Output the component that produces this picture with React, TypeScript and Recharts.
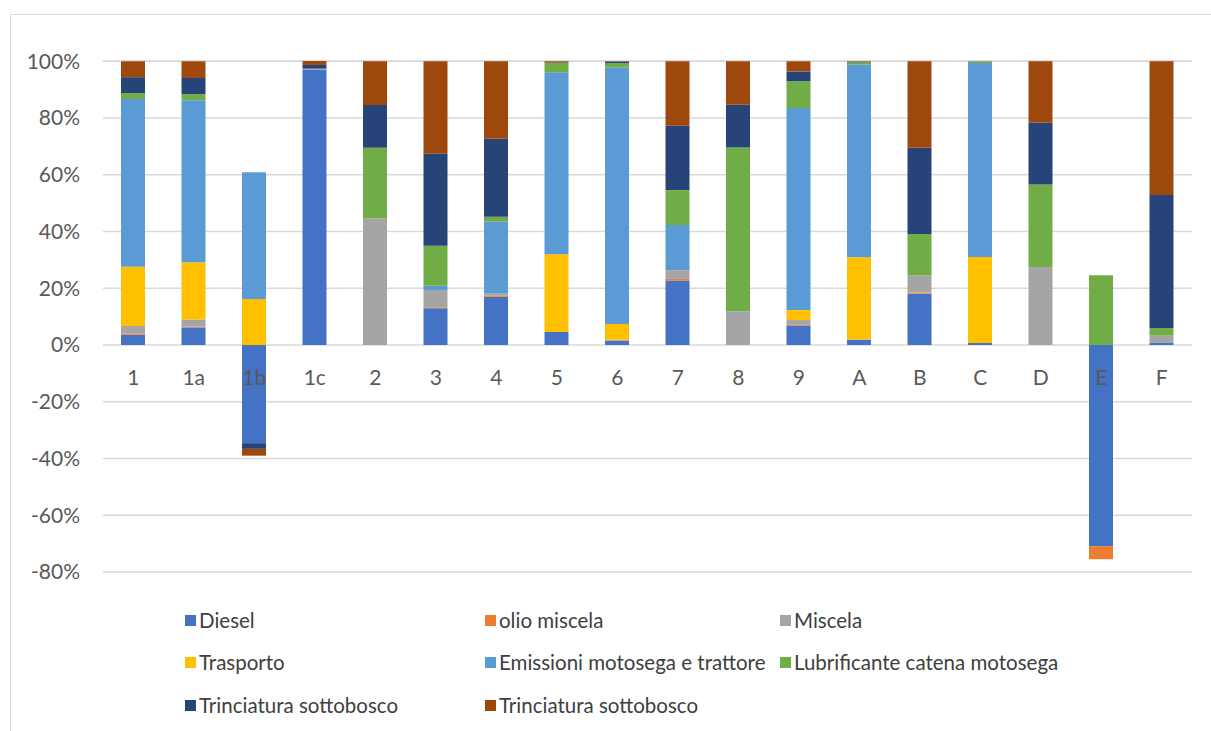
import React from 'react';
import { BarChart, Bar, XAxis, YAxis, CartesianGrid } from 'recharts';

// Categories (sites / scenarios)
const categories = ['1', '1a', '1b', '1c', '2', '3', '4', '5', '6', '7', '8', '9', 'A', 'B', 'C', 'D', 'E', 'F'];

// Share of each contribution, in percent
const diesel = [3.6, 6.2, -34.6, 97.1, 0, 13.0, 17.0, 4.6, 1.5, 22.7, 0, 6.9, 1.9, 18.1, 0.7, 0, -70.9, 0.7];
const olioMiscela = [0.4, 0.3, 0, 0, 0, 0.3, 0.5, 0, 0.2, 0.6, 0, 0.4, 0, 0.4, 0, 0, -4.6, 0];
const miscela = [2.7, 2.5, 0, 0.3, 44.6, 6.1, 0.7, 0, 0.2, 3.1, 11.9, 1.5, 0, 6.1, 0, 27.5, 0, 2.6];
const trasporto = [20.9, 20.2, 16.2, 0, 0, 0, 0, 27.4, 5.5, 0, 0, 3.5, 29.0, 0, 30.3, 0, 0, 0];
const emissioni = [59.1, 57.1, 44.7, 0, 0, 1.5, 25.3, 64.1, 90.4, 15.9, 0, 71.2, 67.9, 0, 68.4, 0, 0, 0];
const lubrificante = [2.1, 2.1, 0, 0, 24.9, 14.1, 1.7, 3.3, 1.6, 12.3, 57.7, 9.5, 0.8, 14.5, 0.5, 29.1, 24.6, 2.7];
const trinciatura1 = [5.6, 5.7, -2.0, 1.3, 15.1, 32.4, 27.5, 0.2, 0.5, 22.7, 15.1, 3.4, 0.2, 30.4, 0, 21.7, 0, 46.9];
const trinciatura2 = [5.6, 5.9, -2.4, 1.4, 15.4, 32.6, 27.3, 0.4, 0.1, 22.7, 15.3, 3.6, 0.2, 30.5, 0.1, 21.7, 0, 47.1];

const yTicks = [-80, -60, -40, -20, 0, 20, 40, 60, 80, 100];

const series = [
  { key: 'diesel', name: 'Diesel', color: '#4472C4', values: diesel },
  { key: 'olio', name: 'olio miscela', color: '#ED7D31', values: olioMiscela },
  { key: 'miscela', name: 'Miscela', color: '#A5A5A5', values: miscela },
  { key: 'trasporto', name: 'Trasporto', color: '#FFC000', values: trasporto },
  { key: 'emissioni', name: 'Emissioni motosega e trattore', color: '#5B9BD5', values: emissioni },
  { key: 'lubrificante', name: 'Lubrificante catena motosega', color: '#70AD47', values: lubrificante },
  { key: 'trinc1', name: 'Trinciatura sottobosco', color: '#264478', values: trinciatura1 },
  { key: 'trinc2', name: 'Trinciatura sottobosco', color: '#9E480E', values: trinciatura2 },
];

const data = categories.map((cat, i) => {
  const row: Record<string, string | number> = { cat };
  series.forEach((s) => {
    row[s.key] = s.values[i];
  });
  return row;
});

const FONT = 'Lato, "Open Sans", sans-serif';
const TICK_SIZE = 21;
const CHART_W = 1211;
const CHART_H = 600;
const MARGIN_TOP = 61;
const X_AXIS_H = 28;
const PLOT_H = CHART_H - MARGIN_TOP - X_AXIS_H;
const Y_MIN = -80;
const Y_MAX = 100;
// vertical position of the zero line, where the category labels sit
const ZERO_Y = MARGIN_TOP + (PLOT_H * Y_MAX) / (Y_MAX - Y_MIN);

const CategoryTick = (props: any) => {
  const { x, payload } = props;
  return (
    <text x={x} y={ZERO_Y + 40} textAnchor="middle" fill="#595959" fontSize={TICK_SIZE} fontFamily={FONT}>
      {payload.value}
    </text>
  );
};

const legendCols = [185, 485, 780];
const legendRows = [620, 662, 705];

export default function App() {
  return (
    <div style={{ position: 'fixed', left: 0, top: 0, width: 1211, height: 731, background: '#fff', overflow: 'hidden' }}>
      <div
        style={{
          position: 'absolute',
          left: 10,
          top: 14,
          width: 1300,
          height: 800,
          borderTop: '1.5px solid #d9d9d9',
          borderLeft: '1.5px solid #d9d9d9',
        }}
      />
      <div style={{ position: 'absolute', left: 0, top: 0 }}>
        <BarChart
          width={CHART_W}
          height={CHART_H}
          data={data}
          stackOffset="sign"
          margin={{ top: MARGIN_TOP, right: 19, bottom: 0, left: 0 }}
          barSize={24}
        >
          <CartesianGrid vertical={false} stroke="#d9d9d9" strokeWidth={1.5} />
          <YAxis
            width={103}
            domain={[Y_MIN, Y_MAX]}
            ticks={yTicks}
            tickFormatter={(v: number) => `${v}%`}
            axisLine={false}
            tickLine={false}
            tickSize={0}
            tickMargin={23}
            interval={0}
            tick={{ fill: '#595959', fontSize: TICK_SIZE, fontFamily: FONT }}
          />
          {series.map((s) => (
            <Bar key={s.key} dataKey={s.key} name={s.name} stackId="a" fill={s.color} isAnimationActive={false} />
          ))}
          <XAxis
            dataKey="cat"
            height={X_AXIS_H}
            axisLine={false}
            tickLine={false}
            interval={0}
            tick={<CategoryTick />}
            zIndex={1000}
          />
        </BarChart>
      </div>
      {series.map((s, i) => {
        const col = i % 3;
        const row = Math.floor(i / 3);
        return (
          <div
            key={s.key}
            style={{
              position: 'absolute',
              left: legendCols[col],
              top: legendRows[row] - 14,
              height: 28,
              display: 'flex',
              alignItems: 'center',
              fontFamily: FONT,
              fontSize: 20.5,
              color: '#404040',
              whiteSpace: 'nowrap',
            }}
          >
            <span style={{ display: 'inline-block', width: 11, height: 11, background: s.color, marginRight: 3 }} />
            {s.name}
          </div>
        );
      })}
    </div>
  );
}
